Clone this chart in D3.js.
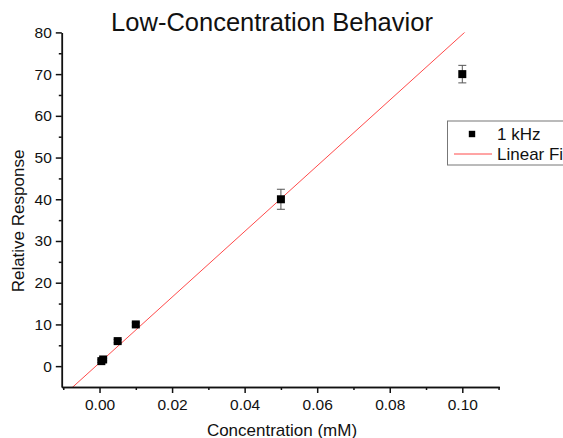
<!DOCTYPE html>
<html>
<head>
<meta charset="utf-8">
<script src="https://cdn.jsdelivr.net/npm/d3@7"></script>
<style>
  body { margin: 0; background: #fff; }
  text { font-family: "Liberation Sans", Arial, sans-serif; fill: #111; }
</style>
</head>
<body>
<svg id="chart" width="563" height="438"></svg>
<script>
// data
let concentration = [0.0005, 0.001, 0.005, 0.01, 0.05, 0.1];
let response = [1.2, 1.6, 6, 10, 40, 70];
let responseErr = [0.3, 0.3, 0.4, 0.4, 2.4, 2.1];
let fitSlope = 787;
let fitIntercept = 0.8;

let xMajor = [0, 0.02, 0.04, 0.06, 0.08, 0.1];
let xMinor = [-0.01, 0.01, 0.03, 0.05, 0.07, 0.09, 0.11];
let yMajor = [0, 10, 20, 30, 40, 50, 60, 70, 80];
let yMinor = [5, 15, 25, 35, 45, 55, 65, 75];

let svg = d3.select("#chart");

let x = d3.scaleLinear().domain([-0.0104, 0.1102]).range([61.8, 499.3]);
let y = d3.scaleLinear().domain([-5, 80]).range([387, 32.4]);

let left = x.range()[0];
let bottom = y.range()[0];

// clip for the fit line
svg.append("clipPath").attr("id", "plotClip")
  .append("rect")
  .attr("x", x.range()[0]).attr("y", y.range()[1])
  .attr("width", x.range()[1] - x.range()[0])
  .attr("height", y.range()[0] - y.range()[1]);

// linear fit
let fitX = x.domain();
svg.append("line")
  .attr("clip-path", "url(#plotClip)")
  .attr("x1", x(fitX[0])).attr("y1", y(fitIntercept + fitSlope * fitX[0]))
  .attr("x2", x(fitX[1])).attr("y2", y(fitIntercept + fitSlope * fitX[1]))
  .attr("stroke", "#ff4a4a").attr("stroke-width", 1);

// axes
function styleAxis(g) {
  g.selectAll("path, line").attr("stroke", "#111").attr("stroke-width", 1.5);
  g.selectAll("text").attr("font-size", 15.5).attr("fill", "#111")
    .attr("font-family", "Liberation Sans, Arial, sans-serif");
}

svg.append("g").attr("transform", `translate(0,${bottom})`)
  .call(d3.axisBottom(x).tickValues(xMinor).tickSize(3).tickSizeOuter(0).tickFormat(""))
  .call(styleAxis);
svg.append("g").attr("transform", `translate(0,${bottom})`)
  .call(d3.axisBottom(x).tickValues(xMajor).tickSize(6).tickSizeOuter(0).tickPadding(6).tickFormat(d3.format(".2f")))
  .call(styleAxis);

svg.append("g").attr("transform", `translate(${left},0)`)
  .call(d3.axisLeft(y).tickValues(yMinor).tickSize(3).tickSizeOuter(0).tickFormat(""))
  .call(styleAxis);
svg.append("g").attr("transform", `translate(${left},0)`)
  .call(d3.axisLeft(y).tickValues(yMajor).tickSize(6).tickSizeOuter(0).tickPadding(4).tickFormat(d3.format("d")))
  .call(styleAxis);

// error bars
let capW = 4;
let errG = svg.append("g").attr("stroke", "#555").attr("stroke-width", 1);
concentration.forEach((c, i) => {
  let cx = x(c);
  let top = y(response[i] + responseErr[i]);
  let bot = y(response[i] - responseErr[i]);
  errG.append("line").attr("x1", cx).attr("x2", cx).attr("y1", top).attr("y2", bot);
  errG.append("line").attr("x1", cx - capW).attr("x2", cx + capW).attr("y1", top).attr("y2", top);
  errG.append("line").attr("x1", cx - capW).attr("x2", cx + capW).attr("y1", bot).attr("y2", bot);
});

// points
let size = 8;
svg.append("g").selectAll("rect")
  .data(concentration)
  .enter()
  .append("rect")
  .attr("x", (d) => x(d) - size / 2)
  .attr("y", (d, i) => y(response[i]) - size / 2)
  .attr("width", size)
  .attr("height", size)
  .attr("fill", "#000");

// titles
svg.append("text")
  .attr("x", 272).attr("y", 31)
  .attr("text-anchor", "middle")
  .attr("font-size", 25.5)
  .text("Low-Concentration Behavior");

svg.append("text")
  .attr("x", 282).attr("y", 436)
  .attr("text-anchor", "middle")
  .attr("font-size", 17)
  .text("Concentration (mM)");

svg.append("text")
  .attr("transform", "translate(24,221) rotate(-90)")
  .attr("text-anchor", "middle")
  .attr("font-size", 17)
  .text("Relative Response");

// legend
let legend = svg.append("g").attr("transform", "translate(447.5,121)");
legend.append("rect")
  .attr("x", 0).attr("y", 0)
  .attr("width", 140).attr("height", 44)
  .attr("fill", "#fff").attr("stroke", "#777").attr("stroke-width", 1);
legend.append("rect")
  .attr("x", 24.5 - 3.2).attr("y", 13 - 3.2)
  .attr("width", 6.4).attr("height", 6.4)
  .attr("fill", "#000");
legend.append("text").attr("x", 49.5).attr("y", 18.5).attr("font-size", 17).text("1 kHz");
legend.append("line")
  .attr("x1", 6.5).attr("x2", 44.5).attr("y1", 33).attr("y2", 33)
  .attr("stroke", "#ff4a4a").attr("stroke-width", 1);
legend.append("text").attr("x", 49.5).attr("y", 38.5).attr("font-size", 17).text("Linear Fit");
</script>
</body>
</html>
